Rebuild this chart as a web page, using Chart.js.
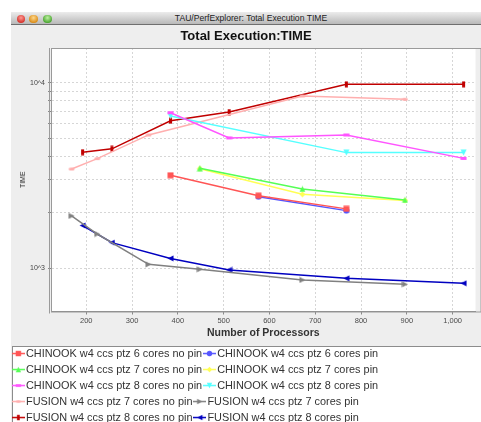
<!DOCTYPE html>
<html><head><meta charset="utf-8">
<script src="https://cdn.jsdelivr.net/npm/chart.js@4/dist/chart.umd.min.js"></script>
<style>
html,body{margin:0;padding:0;background:#fff;width:481px;height:422px;overflow:hidden;position:relative;}
#win{position:absolute;left:11px;top:12px;width:480px;height:13px;box-sizing:border-box;
 background:linear-gradient(#ececec,#cfcfcf 55%,#b9b9b9);border-bottom:1px solid #6f6f6f;}
.dot{position:absolute;top:2.5px;width:8.5px;height:8.5px;border-radius:50%;}
#wt{position:absolute;left:0;width:480px;top:0;height:12px;line-height:12px;text-align:center;
 font-family:'Liberation Sans',Arial,sans-serif;font-size:8.6px;color:#222;}
#wrap{position:absolute;left:11px;top:25px;width:470px;height:408px;}
</style></head>
<body>
<div id="win">
 <div class="dot" style="left:5.5px;background:radial-gradient(circle at 50% 35%,#ff9a94,#d8362f 70%);"></div>
 <div class="dot" style="left:18px;background:radial-gradient(circle at 50% 35%,#ffd88c,#db8f1d 70%);"></div>
 <div class="dot" style="left:32px;background:radial-gradient(circle at 50% 35%,#bdf0a0,#4fa936 70%);"></div>
 <div id="wt">TAU/PerfExplorer: Total Execution TIME</div>
</div>
<div id="wrap"><canvas id="c" width="470" height="408" style="width:470px;height:408px"></canvas></div>
<script>
// ---- data ----
const seriesNames = [
  'CHINOOK w4 ccs ptz 6 cores no pin','CHINOOK w4 ccs ptz 6 cores pin',
  'CHINOOK w4 ccs ptz 7 cores no pin','CHINOOK w4 ccs ptz 7 cores pin',
  'CHINOOK w4 ccs ptz 8 cores no pin','CHINOOK w4 ccs ptz 8 cores pin',
  'FUSION w4 ccs ptz 7 cores no pin','FUSION w4 ccs ptz 7 cores pin',
  'FUSION w4 ccs ptz 8 cores no pin','FUSION w4 ccs ptz 8 cores pin'
];
const chinook6NoPinX = [384, 576, 768];
const chinook6NoPinY = [3170, 2460, 2090];
const chinook6PinX = [576, 768];
const chinook6PinY = [2430, 2045];
const chinook7NoPinX = [448, 672, 896];
const chinook7NoPinY = [3460, 2675, 2335];
const chinook7PinX = [448, 672, 896];
const chinook7PinY = [3440, 2505, 2320];
const chinook8NoPinX = [384, 512, 768, 1024];
const chinook8NoPinY = [6890, 5040, 5230, 3910];
const chinook8PinX = [384, 768, 1024];
const chinook8PinY = [6620, 4200, 4200];
const fusion7NoPinX = [168, 224, 336, 672, 896];
const fusion7NoPinY = [3430, 3900, 5230, 8480, 8140];
const fusion7PinX = [168, 224, 336, 448, 672, 896];
const fusion7PinY = [1915, 1530, 1050, 988, 865, 820];
const fusion8NoPinX = [192, 256, 384, 512, 768, 1024];
const fusion8NoPinY = [4220, 4400, 6240, 6950, 9800, 9800];
const fusion8PinX = [192, 256, 384, 512, 768, 1024];
const fusion8PinY = [1700, 1375, 1130, 980, 883, 830];

const xTickValues = [200, 300, 400, 500, 600, 700, 800, 900, 1000];
const yTickValues = [1000, 2000, 3000, 4000, 5000, 6000, 7000, 8000, 9000, 10000];
const yMajorLabels = {1000: '10^3', 10000: '10^4'};

// ---- styles ----
const colors = ['#FF5555','#5555FF','#55FF55','#FFFF55','#FF55FF','#55FFFF','#FFAFAF','#808080','#C00000','#0000C0'];
const seriesX = [chinook6NoPinX,chinook6PinX,chinook7NoPinX,chinook7PinX,chinook8NoPinX,chinook8PinX,fusion7NoPinX,fusion7PinX,fusion8NoPinX,fusion8PinX];
const seriesY = [chinook6NoPinY,chinook6PinY,chinook7NoPinY,chinook7PinY,chinook8NoPinY,chinook8PinY,fusion7NoPinY,fusion7PinY,fusion8NoPinY,fusion8PinY];

function shapePath(ctx, i, cx, cy, s){
  ctx.beginPath();
  switch(i % 10){
    case 0: ctx.rect(cx-s, cy-s, 2*s, 2*s); break;
    case 1: ctx.arc(cx, cy, s, 0, Math.PI*2); break;
    case 2: ctx.moveTo(cx, cy-s); ctx.lineTo(cx+s, cy+s); ctx.lineTo(cx-s, cy+s); ctx.closePath(); break;
    case 3: ctx.moveTo(cx, cy-s); ctx.lineTo(cx+s, cy); ctx.lineTo(cx, cy+s); ctx.lineTo(cx-s, cy); ctx.closePath(); break;
    case 4: ctx.rect(cx-s, cy-s/2, 2*s, s); break;
    case 5: ctx.moveTo(cx-s, cy-s); ctx.lineTo(cx+s, cy-s); ctx.lineTo(cx, cy+s); ctx.closePath(); break;
    case 6: ctx.ellipse(cx, cy, s, s/2, 0, 0, Math.PI*2); break;
    case 7: ctx.moveTo(cx-s, cy-s); ctx.lineTo(cx+s, cy); ctx.lineTo(cx-s, cy+s); ctx.closePath(); break;
    case 8: ctx.rect(cx-s/2, cy-s, s, 2*s); break;
    case 9: ctx.moveTo(cx+s, cy-s); ctx.lineTo(cx-s, cy); ctx.lineTo(cx+s, cy+s); ctx.closePath(); break;
  }
}
function markerCanvas(i){
  const c = document.createElement('canvas'); c.width = 7; c.height = 7;
  const g = c.getContext('2d'); g.fillStyle = colors[i];
  shapePath(g, i, 3.5, 3.5, 3); g.fill();
  return c;
}
function legendIcon(i){
  const c = document.createElement('canvas'); c.width = 13; c.height = 7;
  const g = c.getContext('2d');
  g.strokeStyle = colors[i]; g.lineWidth = 1.5;
  g.beginPath(); g.moveTo(0, 3.5); g.lineTo(13, 3.5); g.stroke();
  g.fillStyle = colors[i]; shapePath(g, i, 6.5, 3.5, 2.7); g.fill();
  return c;
}
const markers = colors.map((c, i) => markerCanvas(i));
const legendIcons = colors.map((c, i) => legendIcon(i));

const datasets = seriesNames.map((name, i) => ({
  label: name,
  data: seriesX[i].map((x, k) => ({x: x, y: seriesY[i][k]})),
  borderColor: colors[i],
  backgroundColor: colors[i],
  borderWidth: 1.5,
  pointStyle: markers[i],
  pointRadius: 3,
  fill: false,
  tension: 0
}));

Chart.defaults.font.family = "'Liberation Sans', Arial, sans-serif";

const bgPlugin = {
  id: 'bg',
  beforeDraw(chart){
    const {ctx, chartArea: a, width, height} = chart;
    ctx.save();
    ctx.fillStyle = '#eeeeee'; ctx.fillRect(0, 0, width, height);
    ctx.fillStyle = '#ffffff'; ctx.fillRect(a.left, a.top, a.right - a.left, a.bottom - a.top);
    const top = Math.round(chart.legend.top + 3);
    ctx.fillRect(1, top, width - 1, height - top);
    ctx.strokeStyle = '#8c8c8c'; ctx.lineWidth = 1;
    ctx.strokeRect(1.5, top + 0.5, width + 5, height);
    ctx.restore();
  },
  beforeDatasetsDraw(chart){
    const {ctx, chartArea: a} = chart;
    ctx.save();
    ctx.strokeStyle = '#9a9a9a'; ctx.lineWidth = 1;
    ctx.strokeRect(Math.round(a.left) + 0.5, Math.round(a.top) + 0.5, a.right - a.left + 5, a.bottom - a.top);
    ctx.beginPath(); ctx.moveTo(Math.round(a.left) - 1.5, a.top); ctx.lineTo(Math.round(a.left) - 1.5, a.bottom + 2); ctx.stroke();
    ctx.restore();
  }
};

new Chart(document.getElementById('c'), {
  type: 'line',
  data: {datasets},
  plugins: [bgPlugin],
  options: {
    responsive: false,
    animation: false,
    devicePixelRatio: 1,
    layout: {padding: 0},
    scales: {
      x: {
        type: 'linear', min: 123, max: 1050,
        afterBuildTicks(scale){ scale.ticks = xTickValues.map(v => ({value: v})); },
        afterFit(scale){ scale.height = 31.5; },
        ticks: {autoSkip: false, maxRotation: 0, padding: 2.4, color: '#4a4a4a', font: {size: 7.5},
          callback: v => Number(v).toLocaleString('en-US')},
        grid: {color: '#d6d6d6', lineWidth: 1, tickLength: 3, tickColor: '#888'},
        border: {display: true, color: '#888', dash: [2, 2]},
        title: {display: true, text: 'Number of Processors', color: '#333',
          font: {size: 10.5, weight: 'bold'}, padding: {top: 0, bottom: 3.7}}
      },
      y: {
        type: 'logarithmic', min: 585, max: 15380,
        afterBuildTicks(scale){ scale.ticks = yTickValues.map(v => ({value: v})); },
        afterFit(scale){ scale.width = 40; },
        ticks: {autoSkip: false, padding: 3, color: '#444', font: {size: 7},
          callback: v => (yMajorLabels[v] || '')},
        grid: {color: '#d6d6d6', lineWidth: 1, tickLength: 3, tickColor: '#888'},
        border: {display: true, color: '#888', dash: [2, 2]},
        title: {display: true, text: 'TIME', color: '#333', font: {size: 7},
          padding: {top: 7.8, bottom: 0}}
      }
    },
    plugins: {
      title: {display: true, text: 'Total Execution:TIME', color: '#111',
        font: {size: 13, weight: 'bold'}, padding: {top: 3.2, bottom: 4.2}},
      tooltip: {enabled: false},
      legend: {
        position: 'bottom', align: 'start',
        labels: {
          usePointStyle: true, pointStyleWidth: 4.45, padding: 5.1,
          color: '#333', font: {size: 10.9},
          generateLabels(chart){
            const items = Chart.defaults.plugins.legend.labels.generateLabels(chart);
            items.forEach((it, i) => { it.pointStyle = legendIcons[i]; });
            return items;
          }
        }
      }
    }
  }
});
</script>
</body></html>
